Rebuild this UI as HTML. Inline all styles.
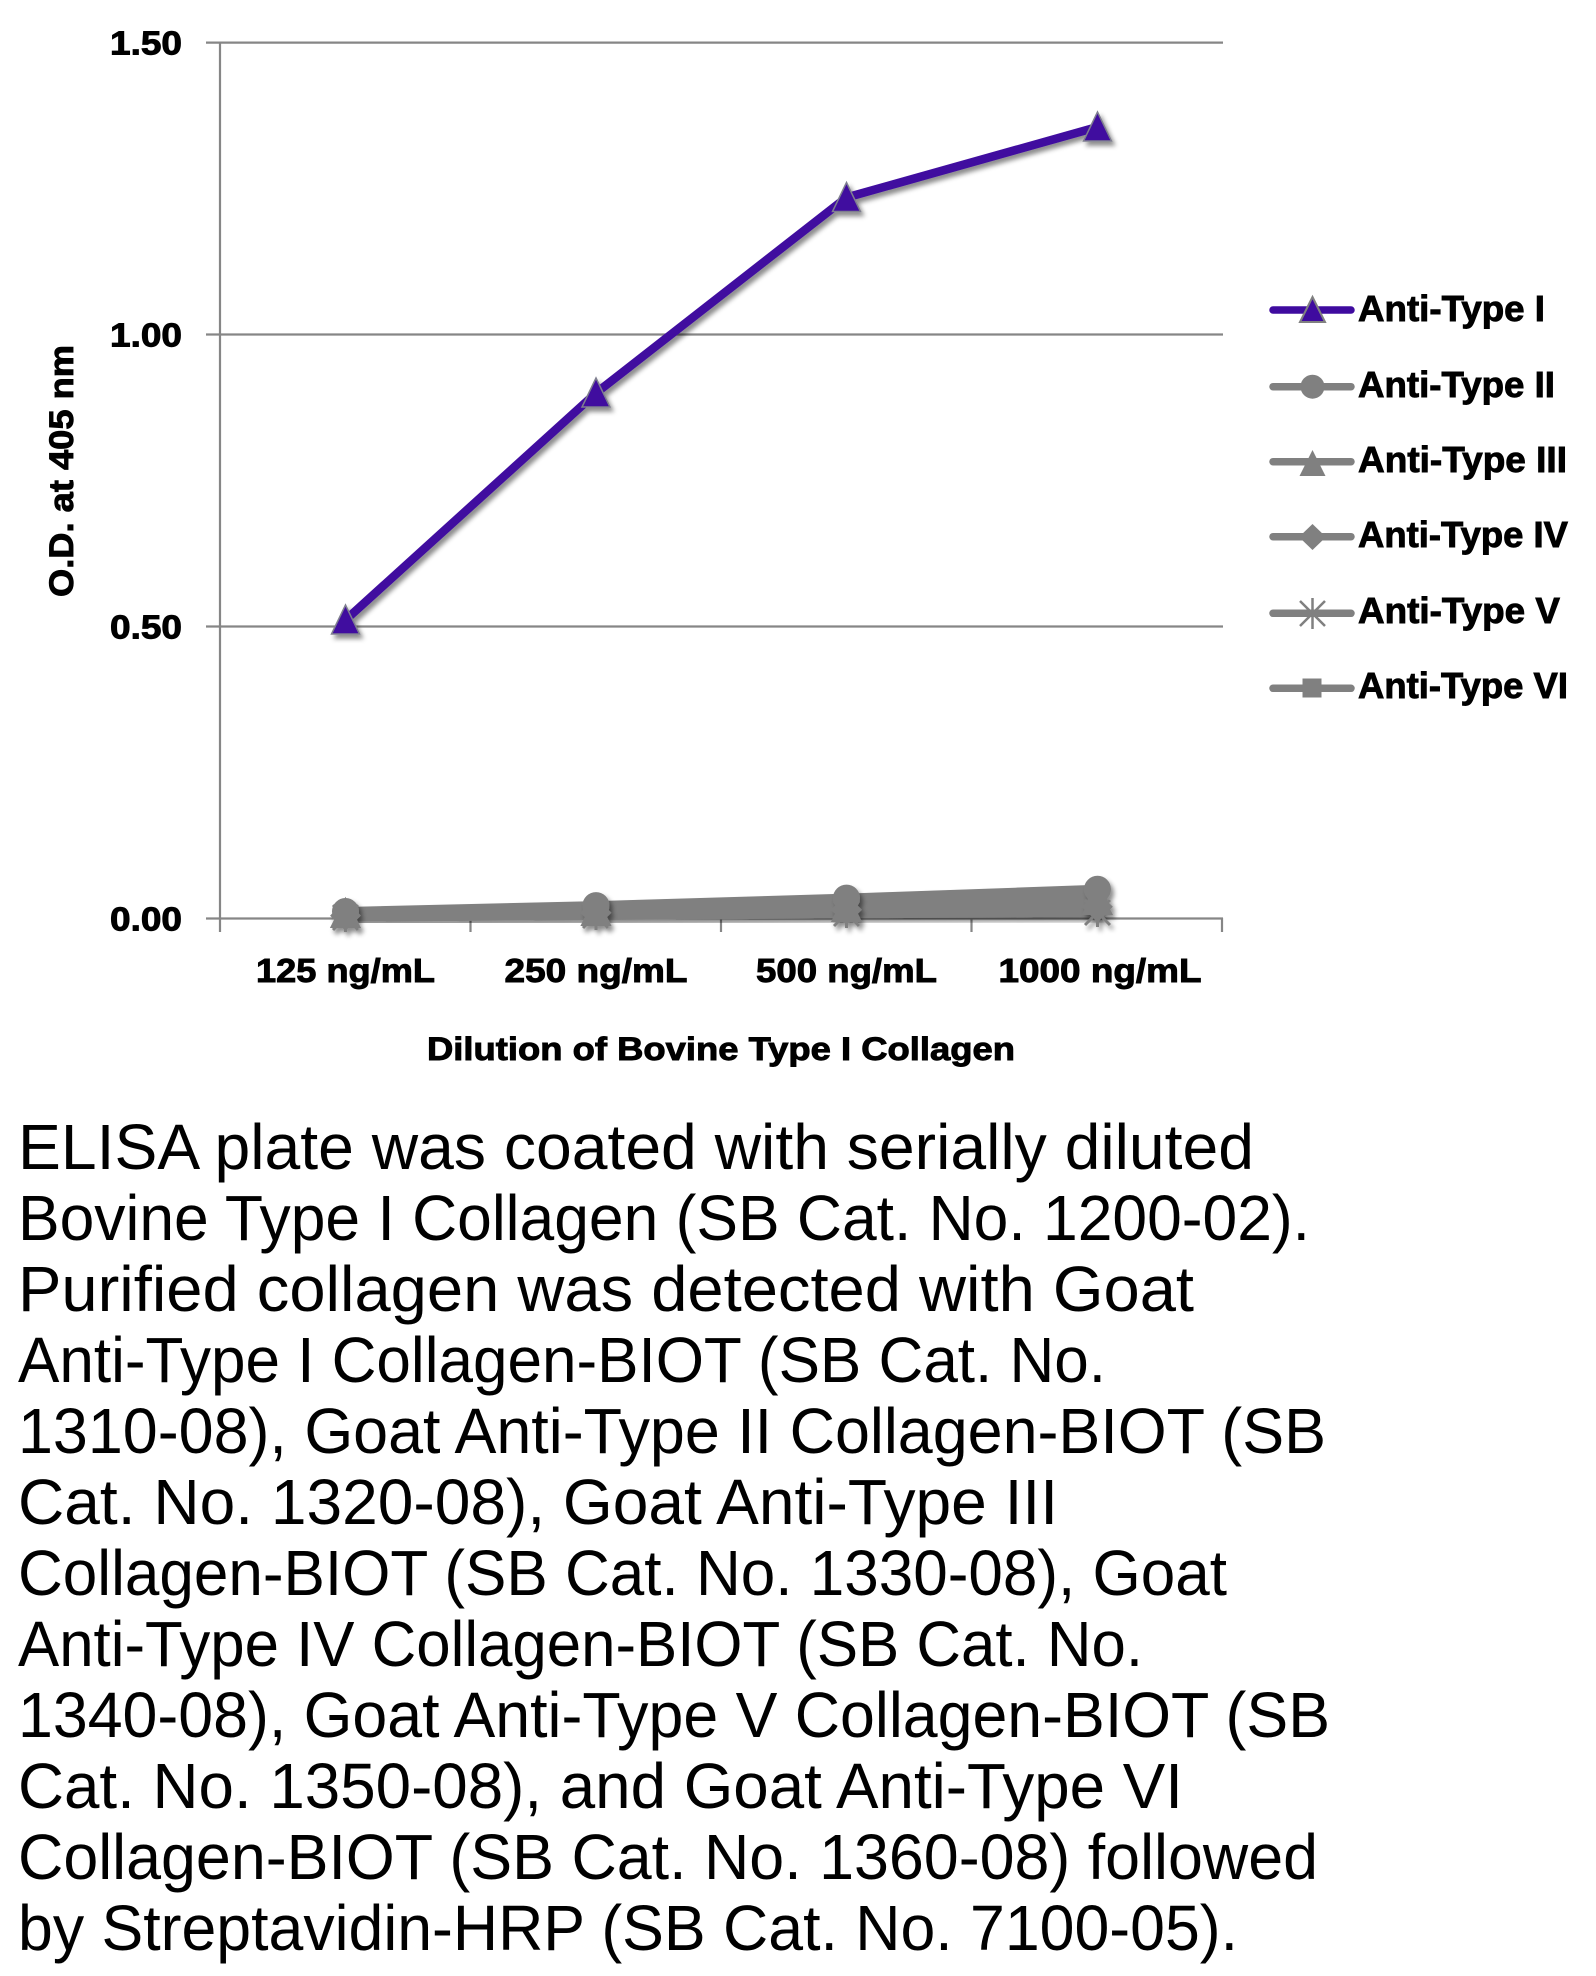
<!DOCTYPE html>
<html>
<head>
<meta charset="utf-8">
<style>
  html, body { margin:0; padding:0; background:#ffffff; }
  svg { display:block; }
  .b { font-family: "Liberation Sans", Arial, sans-serif; font-weight:bold; fill:#000; stroke:#000; stroke-width:0.9px; }
  .r { font-family: "Liberation Sans", Arial, sans-serif; font-weight:normal; fill:#000; }
</style>
</head>
<body>
<svg width="1596" height="1976" viewBox="0 0 1596 1976" xmlns="http://www.w3.org/2000/svg">
  <defs>
    <filter id="sh" x="-20%" y="-20%" width="140%" height="140%">
      <feDropShadow dx="3" dy="4" stdDeviation="2.5" flood-color="#000" flood-opacity="0.45"/>
    </filter>
  </defs>
  <rect x="0" y="0" width="1596" height="1976" fill="#fff"/>

  <!-- gridlines -->
  <g stroke="#868686" stroke-width="2.2" fill="none">
    <line x1="206" y1="42.6" x2="1223" y2="42.6"/>
    <line x1="206" y1="334.5" x2="1223" y2="334.5"/>
    <line x1="206" y1="626.5" x2="1223" y2="626.5"/>
    <line x1="206" y1="918.5" x2="1223" y2="918.5"/>
    <line x1="220" y1="42" x2="220" y2="932"/>
    <line x1="470.5" y1="918" x2="470.5" y2="932"/>
    <line x1="721" y1="918" x2="721" y2="932"/>
    <line x1="971.5" y1="918" x2="971.5" y2="932"/>
    <line x1="1222" y1="918" x2="1222" y2="932"/>
  </g>

  <!-- y tick labels -->
  <text class="b" x="182" y="54.6" font-size="33" text-anchor="end" textLength="72" lengthAdjust="spacingAndGlyphs">1.50</text>
  <text class="b" x="182" y="346.5" font-size="33" text-anchor="end" textLength="72" lengthAdjust="spacingAndGlyphs">1.00</text>
  <text class="b" x="182" y="638.5" font-size="33" text-anchor="end" textLength="72" lengthAdjust="spacingAndGlyphs">0.50</text>
  <text class="b" x="182" y="930.5" font-size="33" text-anchor="end" textLength="72" lengthAdjust="spacingAndGlyphs">0.00</text>

  <!-- y axis title -->
  <text class="b" transform="translate(73,471) rotate(-90)" x="0" y="0" font-size="34" text-anchor="middle" textLength="252" lengthAdjust="spacingAndGlyphs">O.D. at 405 nm</text>

  <!-- x tick labels -->
  <text class="b" x="345.5" y="982" font-size="33" text-anchor="middle" textLength="179" lengthAdjust="spacingAndGlyphs">125 ng/mL</text>
  <text class="b" x="596" y="982" font-size="33" text-anchor="middle" textLength="183" lengthAdjust="spacingAndGlyphs">250 ng/mL</text>
  <text class="b" x="846.5" y="982" font-size="33" text-anchor="middle" textLength="181" lengthAdjust="spacingAndGlyphs">500 ng/mL</text>
  <text class="b" x="1100" y="982" font-size="33" text-anchor="middle" textLength="203" lengthAdjust="spacingAndGlyphs">1000 ng/mL</text>

  <!-- x axis title -->
  <text class="b" x="427" y="1060" font-size="32" textLength="588" lengthAdjust="spacingAndGlyphs">Dilution of Bovine Type I Collagen</text>

  <!-- gray series (lines) -->
  <g filter="url(#sh)" fill="none" stroke="#808080" stroke-width="9" stroke-linejoin="round" stroke-linecap="round">
    <polyline points="345.5,917.3 596,915.6 846.5,913.8 1097.5,912.7"/>
    <polyline points="345.5,915.6 596,912.7 846.5,909.7 1097.5,906.8"/>
    <polyline points="345.5,915.6 596,912.7 846.5,906.8 1097.5,892.2"/>
    <polyline points="345.5,913.8 596,911.5 846.5,908 1097.5,901"/>
    <polyline points="345.5,911.5 596,905.6 846.5,898.1 1097.5,889.3"/>
  </g>
  <!-- gray markers -->
  <g filter="url(#sh)" fill="#808080" stroke="#808080" stroke-width="2">
    <g stroke-width="3">
      <path d="M333,905 L358,930 M358,905 L333,930 M345.5,903 L345.5,932"/>
      <path d="M583,903 L608,928 M608,903 L583,928 M596,901 L596,930"/>
      <path d="M834,901 L859,926 M859,901 L834,926 M846.5,899 L846.5,928"/>
      <path d="M1085,900 L1110,925 M1110,900 L1085,925 M1097.5,898 L1097.5,927"/>
    </g>
    <rect x="336.5" y="906.6" width="18" height="18"/>
    <rect x="587" y="903.7" width="18" height="18"/>
    <rect x="837.5" y="897.8" width="18" height="18"/>
    <rect x="1088.5" y="883.2" width="18" height="18"/>
    <polygon points="345.5,901.6 359.5,915.6 345.5,929.6 331.5,915.6"/>
    <polygon points="596,898.7 610,912.7 596,926.7 582,912.7"/>
    <polygon points="846.5,895.7 860.5,909.7 846.5,923.7 832.5,909.7"/>
    <polygon points="1097.5,892.8 1111.5,906.8 1097.5,920.8 1083.5,906.8"/>
    <polygon points="345.5,899 359.5,927 331.5,927"/>
    <polygon points="596,897 610,925 582,925"/>
    <polygon points="846.5,893 860.5,921 832.5,921"/>
    <polygon points="1097.5,886 1111.5,914 1083.5,914"/>
    <circle cx="345.5" cy="911.5" r="12.5"/>
    <circle cx="596" cy="905.6" r="12.5"/>
    <circle cx="846.5" cy="898.1" r="12.5"/>
    <circle cx="1097.5" cy="889.3" r="12.5"/>
  </g>

  <!-- purple series -->
  <g filter="url(#sh)">
    <polyline points="345.5,620 596,393 846.5,197.5 1097.5,127" fill="none" stroke="#3f0b9f" stroke-width="8.5" stroke-linejoin="round" stroke-linecap="round"/>
    <g fill="#3f0b9f" stroke="#7f7f8f" stroke-width="1.5">
      <polygon points="345.5,605 359.5,634 331.5,634"/>
      <polygon points="596,378 610,407 582,407"/>
      <polygon points="846.5,182.5 860.5,211.5 832.5,211.5"/>
      <polygon points="1097.5,112 1111.5,141 1083.5,141"/>
    </g>
  </g>

  <!-- legend -->
  <g stroke-linecap="round" stroke-width="7.5" fill="none">
    <line x1="1273" y1="310" x2="1351" y2="310" stroke="#3f0b9f"/>
    <line x1="1273" y1="386.7" x2="1351" y2="386.7" stroke="#808080"/>
    <line x1="1273" y1="461.7" x2="1351" y2="461.7" stroke="#808080"/>
    <line x1="1273" y1="536.7" x2="1351" y2="536.7" stroke="#808080"/>
    <line x1="1273" y1="613.3" x2="1351" y2="613.3" stroke="#808080"/>
    <line x1="1273" y1="688.3" x2="1351" y2="688.3" stroke="#808080"/>
  </g>
  <polygon points="1312.5,297 1325,322 1300,322" fill="#3f0b9f" stroke="#808080" stroke-width="2"/>
  <circle cx="1312.5" cy="386.7" r="12" fill="#808080"/>
  <polygon points="1312.5,450 1325.5,476 1299.5,476" fill="#808080"/>
  <polygon points="1312.5,524 1326,537 1312.5,550 1299,537" fill="#808080"/>
  <path d="M1300,601 L1325,626 M1325,601 L1300,626 M1312.5,598 L1312.5,629" stroke="#808080" stroke-width="2.5" fill="none"/>
  <rect x="1302.5" y="678.5" width="19" height="19" fill="#808080"/>

  <text class="b" x="1358" y="321" font-size="36" textLength="187" lengthAdjust="spacingAndGlyphs">Anti-Type I</text>
  <text class="b" x="1358" y="397" font-size="36" textLength="197" lengthAdjust="spacingAndGlyphs">Anti-Type II</text>
  <text class="b" x="1358" y="472" font-size="36" textLength="209" lengthAdjust="spacingAndGlyphs">Anti-Type III</text>
  <text class="b" x="1358" y="547" font-size="36" textLength="210" lengthAdjust="spacingAndGlyphs">Anti-Type IV</text>
  <text class="b" x="1358" y="623" font-size="36" textLength="202" lengthAdjust="spacingAndGlyphs">Anti-Type V</text>
  <text class="b" x="1358" y="698" font-size="36" textLength="210" lengthAdjust="spacingAndGlyphs">Anti-Type VI</text>

  <!-- caption paragraph -->
  <g>
    <text class="r" x="18" y="1169" font-size="64" textLength="1236" lengthAdjust="spacingAndGlyphs">ELISA plate was coated with serially diluted</text>
    <text class="r" x="18" y="1240" font-size="64" textLength="1292" lengthAdjust="spacingAndGlyphs">Bovine Type I Collagen (SB Cat. No. 1200-02).</text>
    <text class="r" x="18" y="1311" font-size="64" textLength="1176" lengthAdjust="spacingAndGlyphs">Purified collagen was detected with Goat</text>
    <text class="r" x="18" y="1382" font-size="64" textLength="1088" lengthAdjust="spacingAndGlyphs">Anti-Type I Collagen-BIOT (SB Cat. No.</text>
    <text class="r" x="18" y="1453" font-size="64" textLength="1308" lengthAdjust="spacingAndGlyphs">1310-08), Goat Anti-Type II Collagen-BIOT (SB</text>
    <text class="r" x="18" y="1524" font-size="64" textLength="1040" lengthAdjust="spacingAndGlyphs">Cat. No. 1320-08), Goat Anti-Type III</text>
    <text class="r" x="18" y="1595" font-size="64" textLength="1209" lengthAdjust="spacingAndGlyphs">Collagen-BIOT (SB Cat. No. 1330-08), Goat</text>
    <text class="r" x="18" y="1666" font-size="64" textLength="1125" lengthAdjust="spacingAndGlyphs">Anti-Type IV Collagen-BIOT (SB Cat. No.</text>
    <text class="r" x="18" y="1737" font-size="64" textLength="1312" lengthAdjust="spacingAndGlyphs">1340-08), Goat Anti-Type V Collagen-BIOT (SB</text>
    <text class="r" x="18" y="1808" font-size="64" textLength="1165" lengthAdjust="spacingAndGlyphs">Cat. No. 1350-08), and Goat Anti-Type VI</text>
    <text class="r" x="18" y="1879" font-size="64" textLength="1300" lengthAdjust="spacingAndGlyphs">Collagen-BIOT (SB Cat. No. 1360-08) followed</text>
    <text class="r" x="18" y="1950" font-size="64" textLength="1220" lengthAdjust="spacingAndGlyphs">by Streptavidin-HRP (SB Cat. No. 7100-05).</text>
  </g>
</svg>
</body>
</html>
